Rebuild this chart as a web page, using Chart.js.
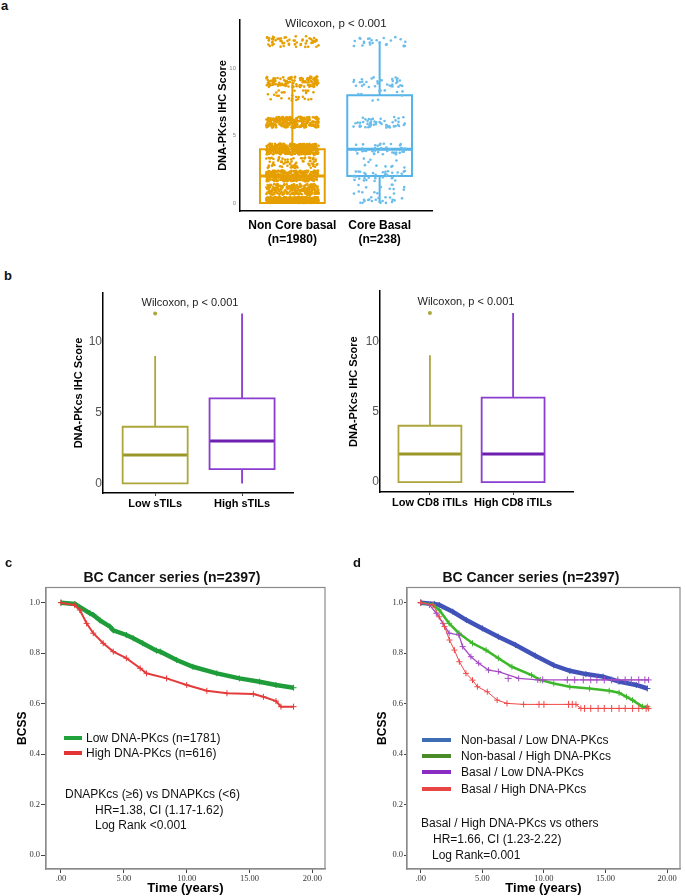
<!DOCTYPE html>
<html>
<head>
<meta charset="utf-8">
<script src="https://cdn.jsdelivr.net/npm/chart.js@4.4.1/dist/chart.umd.min.js"></script>
<style>
  body { margin: 0; background: #fff; font-family: "Liberation Sans", Arial, sans-serif; }
  #page { position: relative; width: 685px; height: 896px; overflow: hidden; background: #fff; }
  .panel { position: absolute; }
  .t { position: absolute; white-space: nowrap; line-height: 1; transform: translateY(-50%); color: #111; font-size: 12px; }
  .c { transform: translate(-50%, -50%); }
  .b { font-weight: bold; }
  .key { position: absolute; height: 4px; width: 18px; }
</style>
</head>
<body>
<div id="page">
  <div class="panel" style="left:190px;top:8px"><canvas id="chartA" width="260" height="250"></canvas></div>
  <div class="panel" style="left:70px;top:283px"><canvas id="chartB1" width="240" height="230"></canvas></div>
  <div class="panel" style="left:345px;top:283px"><canvas id="chartB2" width="240" height="230"></canvas></div>
  <div class="panel" style="left:0px;top:560px"><canvas id="chartC" width="345" height="336"></canvas></div>
  <div class="panel" style="left:345px;top:560px"><canvas id="chartD" width="340" height="336"></canvas></div>

  <!-- panel letters -->
  <div class="t b" style="left:1px;top:5px;font-size:13px">a</div>
  <div class="t b" style="left:4px;top:275px;font-size:13px">b</div>
  <div class="t b" style="left:5px;top:562px;font-size:13px">c</div>
  <div class="t b" style="left:353px;top:562px;font-size:13px">d</div>

  <!-- test labels -->
  <div class="t c" style="left:336px;top:24px;font-size:11.5px;color:#222">Wilcoxon, p &lt; 0.001</div>
  <div class="t c" style="left:190px;top:302px;font-size:11px;color:#222">Wilcoxon, p &lt; 0.001</div>
  <div class="t c" style="left:466px;top:301px;font-size:11px;color:#222">Wilcoxon, p &lt; 0.001</div>

  <!-- survival titles -->
  <div class="t c b" style="left:172px;top:577px;font-size:14px">BC Cancer series (n=2397)</div>
  <div class="t c b" style="left:531px;top:577px;font-size:14px">BC Cancer series (n=2397)</div>

  <!-- legend c -->
  <div class="key" style="left:64px;top:736px;background:#1FA33A"></div>
  <div class="t" style="left:86px;top:738px">Low DNA-PKcs (n=1781)</div>
  <div class="key" style="left:64px;top:751px;background:#E33333"></div>
  <div class="t" style="left:86px;top:753px">High DNA-PKcs (n=616)</div>
  <div class="t" style="left:65px;top:794px">DNAPKcs (≥6) vs DNAPKcs (&lt;6)</div>
  <div class="t" style="left:95px;top:809.5px">HR=1.38, CI (1.17-1.62)</div>
  <div class="t" style="left:95px;top:825px">Log Rank &lt;0.001</div>

  <!-- legend d -->
  <div class="key" style="left:422px;top:738px;width:29px;background:#3D6EB4"></div>
  <div class="t" style="left:461px;top:740px">Non-basal / Low DNA-PKcs</div>
  <div class="key" style="left:422px;top:753.5px;width:29px;background:#4A8C2A"></div>
  <div class="t" style="left:461px;top:755.5px">Non-basal / High DNA-PKcs</div>
  <div class="key" style="left:422px;top:770.3px;width:29px;background:#8A2BC2"></div>
  <div class="t" style="left:461px;top:772.3px">Basal / Low DNA-PKcs</div>
  <div class="key" style="left:422px;top:787px;width:29px;background:#E84545"></div>
  <div class="t" style="left:461px;top:789px">Basal / High DNA-PKcs</div>
  <div class="t" style="left:421px;top:823.3px">Basal / High DNA-PKcs vs others</div>
  <div class="t" style="left:433px;top:838.5px">HR=1.66, CI (1.23-2.22)</div>
  <div class="t" style="left:432px;top:855px">Log Rank=0.001</div>
</div>

<script>
// ---- panel a: IHC score per level (counts of cases) ----
const scoreLevels = [0, 1, 2, 3, 4, 6, 8, 9, 12];
const aGroups = ['Non Core basal', 'Core Basal'];
const aGroupN = [1980, 238];
const nonCoreCounts = [500, 240, 300, 70, 380, 270, 30, 130, 60];
const coreCounts = [20, 15, 35, 10, 40, 50, 10, 33, 25];
const aQ1 = [0, 2];
const aMedian = [2, 4];
const aQ3 = [4, 8];
const aLow = [0, 0];
const aHigh = [9, 12];

// ---- panel b: box stats ----
const bGroupsTils = ['Low sTILs', 'High sTILs'];
const bTilsQ1 = [0, 1];
const bTilsMedian = [2, 3];
const bTilsQ3 = [4, 6];
const bTilsLow = [0, 0];
const bTilsHigh = [9, 12];
const bTilsOutliers = [[12], []];

const bGroupsCd8 = ['Low CD8 iTILs', 'High CD8 iTILs'];
const bCd8Q1 = [0, 0];
const bCd8Median = [2, 2];
const bCd8Q3 = [4, 6];
const bCd8Low = [0, 0];
const bCd8High = [9, 12];
const bCd8Outliers = [[12], []];

const boxTicks = [0, 5, 10];

// ---- panel c: Kaplan-Meier ----
const cTimeLow = [0, 1.1, 1.25, 2.3, 2.57, 3.1, 3.9, 4.16, 5.2, 5.75, 6.5, 7.6, 7.9, 9.2, 10.5, 12.4, 14.2, 15.8, 17.1, 18.5];
const cSurvLow = [1, 0.995, 0.99, 0.958, 0.951, 0.93, 0.905, 0.89, 0.872, 0.859, 0.839, 0.81, 0.806, 0.773, 0.746, 0.72, 0.70, 0.687, 0.674, 0.663];
const cTimeHigh = [0, 1.1, 1.5, 2.04, 2.57, 3.36, 4.16, 5.2, 6.3, 6.8, 8.4, 10.0, 11.6, 13.2, 15.3, 16.1, 17.1, 17.5, 18.5];
const cSurvHigh = [1, 0.99, 0.971, 0.918, 0.879, 0.839, 0.806, 0.78, 0.74, 0.72, 0.70, 0.674, 0.651, 0.641, 0.638, 0.627, 0.61, 0.588, 0.588];

// ---- panel d: Kaplan-Meier by basal status ----
const dTimeBlue = [0, 1.1, 1.5, 2.6, 3.7, 5.0, 6.3, 7.7, 9.3, 10.8, 12.1, 13.4, 14.8, 16.1, 17.5, 18.4];
const dSurvBlue = [1, 0.995, 0.991, 0.964, 0.931, 0.898, 0.865, 0.832, 0.79, 0.752, 0.73, 0.717, 0.707, 0.687, 0.674, 0.66];
const dTimeGreen = [0, 1.0, 1.5, 2.3, 3.1, 4.2, 5.3, 6.3, 7.4, 9.0, 9.7, 10.8, 12.1, 13.7, 15.3, 16.1, 16.7, 17.2, 18.0, 18.4];
const dSurvGreen = [1, 0.991, 0.971, 0.918, 0.879, 0.839, 0.812, 0.78, 0.746, 0.713, 0.694, 0.68, 0.667, 0.66, 0.651, 0.643, 0.627, 0.614, 0.588, 0.588];
const dTimePurple = [0, 0.7, 1.26, 1.8, 2.3, 3.1, 3.4, 4.07, 4.7, 5.5, 6.3, 7.95, 9.5, 18.5];
const dSurvPurple = [1, 0.991, 0.958, 0.918, 0.879, 0.872, 0.826, 0.786, 0.76, 0.733, 0.727, 0.70, 0.694, 0.694];
const dTimeRed = [0, 1.0, 1.5, 1.93, 2.33, 2.73, 3.13, 3.67, 4.2, 4.6, 5.4, 6.2, 7.0, 8.35, 12.6, 13.0, 18.5];
const dSurvRed = [1, 0.991, 0.944, 0.905, 0.852, 0.812, 0.766, 0.72, 0.693, 0.667, 0.647, 0.614, 0.601, 0.597, 0.597, 0.581, 0.581];
// censor marks on the plateaus
const dCensorPurpleTime = [7.1, 9.9, 11.9, 12.5, 13.2, 13.8, 14.3, 14.9, 15.5, 16.0, 16.6, 17.1, 17.7, 18.2];
const dCensorPurpleSurv = [0.70, 0.694, 0.694, 0.694, 0.694, 0.694, 0.694, 0.694, 0.694, 0.694, 0.694, 0.694, 0.694, 0.694];
const dCensorRedTime = [9.6, 10.0, 12.0, 12.3, 13.3, 13.8, 14.4, 14.9, 15.5, 16.1, 16.6, 17.2, 17.7, 18.3];
const dCensorRedSurv = [0.597, 0.597, 0.597, 0.597, 0.581, 0.581, 0.581, 0.581, 0.581, 0.581, 0.581, 0.581, 0.581, 0.581];

const kmTicksY = [0, 0.2, 0.4, 0.6, 0.8, 1.0];
const kmTicksX = [0, 5, 10, 15, 20];

Chart.defaults.font.family = '"Liberation Sans", Arial, sans-serif';
Chart.defaults.animation = false;
Chart.defaults.responsive = false;
Chart.defaults.plugins.legend.display = false;
Chart.defaults.plugins.tooltip.enabled = false;

// deterministic jitter offset in [-0.5, 0.5)
const jit = (n, k) => {
    const v = Math.sin(n * 12.9898 + k * 78.233) * 43758.5453;
    return v - Math.floor(v) - 0.5;
};

// jittered points, one per case, from the level counts
function jitterPoints(counts, center, seed) {
    const pts = [];
    let n = seed;
    counts.forEach((c, i) => {
        for (let k = 0; k < c; k++, n++) {
            const lvl = scoreLevels[i];
            const jy = jit(n, 2);
            pts.push({ x: center + jit(n, 1) * 0.6, y: lvl === 0 ? Math.abs(jy) * 0.85 : lvl + jy * 0.8 });
        }
    });
    return pts;
}

function boxSets(stats, colors, medColors, hw, lw, mw) {
    const sets = [];
    stats.q1.forEach((q1, g) => {
        const c = g + 1;
        const q3 = stats.q3[g], med = stats.med[g];
        const common = { showLine: true, pointRadius: 0, borderColor: colors[g], borderWidth: lw };
        sets.push({ ...common, borderCapStyle: 'square', borderJoinStyle: 'miter',
            data: [{ x: c - hw, y: q1 }, { x: c + hw, y: q1 }, { x: c + hw, y: q3 }, { x: c - hw, y: q3 }, { x: c - hw, y: q1 }] });
        sets.push({ ...common,
            data: [{ x: c, y: stats.lo[g] }, { x: c, y: q1 }, { x: c, y: null }, { x: c, y: q3 }, { x: c, y: stats.hi[g] }] });
        sets.push({ ...common, borderColor: medColors[g], borderWidth: mw,
            data: [{ x: c - hw, y: med }, { x: c + hw, y: med }] });
    });
    return sets;
}

// ---- a ----
const orange = '#E69F00', skyBlue = '#56B4E9';
new Chart(document.getElementById('chartA'), {
    type: 'scatter',
    data: {
        datasets: [
            { data: jitterPoints(nonCoreCounts, 1, 1), pointRadius: 1.3, pointBackgroundColor: orange, pointBorderWidth: 0 },
            { data: jitterPoints(coreCounts, 2, 5001), pointRadius: 1.3, pointBackgroundColor: '#6BBDEB', pointBorderWidth: 0 },
            ...boxSets({ q1: aQ1, med: aMedian, q3: aQ3, lo: aLow, hi: aHigh }, [orange, skyBlue], [orange, skyBlue], 0.371, 2, 3)
        ]
    },
    options: {
        layout: { padding: { left: 0, top: 12, right: 18, bottom: 7 } },
        scales: {
            x: {
                min: 0.4, max: 2.6,
                afterBuildTicks: s => { s.ticks = [1, 2].map(v => ({ value: v })); },
                afterFit: s => { s.height = 40; },
                grid: { display: false, drawTicks: false },
                border: { color: '#000', width: 1.5 },
                ticks: { color: '#000', padding: 7, maxRotation: 0, autoSkip: false,
                    font: { size: 12, weight: 'bold' },
                    callback: v => [aGroups[v - 1], '(n=' + aGroupN[v - 1] + ')'] }
            },
            y: {
                min: -0.6, max: 13.6,
                afterBuildTicks: s => { s.ticks = boxTicks.map(v => ({ value: v })); },
                afterFit: s => { s.width = 50; },
                grid: { display: false, drawTicks: false },
                border: { color: '#000', width: 1.5 },
                ticks: { color: '#888', padding: 4, font: { size: 6 } },
                title: { display: true, text: 'DNA-PKcs IHC Score', color: '#000',
                    font: { size: 11, weight: 'bold' }, padding: { top: 26, bottom: 0 } }
            }
        }
    }
});

// ---- b ----
const olive = '#ADA63C', oliveDark = '#9B962A', purple = '#8A3DCF', purpleDark = '#6E1FB0';

function tilsChart(id, groups, stats, outliers, opt) {
    new Chart(document.getElementById(id), {
        type: 'scatter',
        data: {
            datasets: [
                { data: outliers.flatMap((o, g) => o.map(v => ({ x: g + 1, y: v }))),
                  pointRadius: 2, pointBackgroundColor: olive, pointBorderWidth: 0 },
                ...boxSets(stats, [olive, purple], [oliveDark, purpleDark], opt.hw, 1.8, 3)
            ]
        },
        options: {
            layout: { padding: opt.pad },
            scales: {
                x: {
                    min: 0.4, max: opt.xmax,
                    afterBuildTicks: s => { s.ticks = [1, 2].map(v => ({ value: v })); },
                    afterFit: s => { s.height = 20; },
                    grid: { display: true, drawOnChartArea: false, drawTicks: true, tickLength: 3, color: '#444' },
                    border: { color: '#000', width: 1.5 },
                    ticks: { color: '#000', padding: 1, maxRotation: 0, autoSkip: false,
                        font: { size: 11, weight: 'bold' }, callback: v => groups[v - 1] }
                },
                y: {
                    min: opt.ymin, max: opt.ymax,
                    afterBuildTicks: s => { s.ticks = boxTicks.map(v => ({ value: v })); },
                    afterFit: s => { s.width = opt.yw; },
                    grid: { display: false, drawTicks: false },
                    border: { color: '#000', width: 1.5 },
                    ticks: { color: '#555', padding: 1, font: { size: 12 } },
                    title: { display: true, text: 'DNA-PKcs IHC Score', color: '#000',
                        font: { size: 11, weight: 'bold' }, padding: { top: opt.tp, bottom: 0 } }
                }
            }
        }
    });
}

tilsChart('chartB1', bGroupsTils,
    { q1: bTilsQ1, med: bTilsMedian, q3: bTilsQ3, lo: bTilsLow, hi: bTilsHigh }, bTilsOutliers,
    { hw: 0.374, xmax: 2.586, ymin: -0.68, ymax: 13.45, yw: 33, tp: 2.4, pad: { left: 0, top: 10, right: 17, bottom: 0 } });
tilsChart('chartB2', bGroupsCd8,
    { q1: bCd8Q1, med: bCd8Median, q3: bCd8Q3, lo: bCd8Low, hi: bCd8High }, bCd8Outliers,
    { hw: 0.378, xmax: 2.72, ymin: -0.7, ymax: 13.55, yw: 35, tp: 2.4, pad: { left: 0, top: 7, right: 12, bottom: 1 } });

// ---- c / d ----
const framePlugin = {
    id: 'frame',
    afterDraw(chart) {
        const { ctx, chartArea: a } = chart;
        ctx.save();
        ctx.strokeStyle = '#8a8a8a';
        ctx.lineWidth = 1.2;
        ctx.strokeRect(a.left, a.top, a.right - a.left, a.bottom - a.top);
        ctx.restore();
    }
};

function kmSet(times, surv, color, width) {
    return {
        showLine: true, data: times.map((t, i) => ({ x: t, y: surv[i] })),
        borderColor: color, borderWidth: width, tension: 0,
        pointStyle: 'cross', pointRadius: 3, pointBorderColor: color, pointBorderWidth: 1
    };
}

function censorSet(times, surv, color) {
    return {
        data: times.map((t, i) => ({ x: t, y: surv[i] })),
        pointStyle: 'cross', pointRadius: 3.5, pointBorderColor: color, pointBorderWidth: 1
    };
}

function kmChart(id, datasets, opt) {
    new Chart(document.getElementById(id), {
        type: 'scatter',
        data: { datasets },
        plugins: [framePlugin],
        options: {
            layout: { padding: opt.pad },
            scales: {
                x: {
                    min: opt.xmin, max: opt.xmax,
                    afterBuildTicks: s => { s.ticks = kmTicksX.map(v => ({ value: v })); },
                    afterFit: s => { s.height = 27; },
                    grid: { display: true, drawOnChartArea: false, tickLength: 4, color: '#444' },
                    border: { color: '#8a8a8a', width: 1.2 },
                    ticks: { color: '#333', padding: 1, font: { family: '"Liberation Serif", serif', size: 8.5 },
                        callback: v => (v === 0 ? '.00' : v.toFixed(2)) },
                    title: { display: true, text: 'Time (years)', color: '#000',
                        font: { size: 13, weight: 'bold' }, padding: { top: 0, bottom: 0 } }
                },
                y: {
                    min: -0.055, max: 1.06,
                    afterBuildTicks: s => { s.ticks = kmTicksY.map(v => ({ value: v })); },
                    afterFit: s => { s.width = opt.yw; },
                    grid: { display: true, drawOnChartArea: false, tickLength: opt.tl, color: '#444' },
                    border: { color: '#8a8a8a', width: 1.2 },
                    ticks: { color: '#333', padding: 1, font: { family: '"Liberation Serif", serif', size: 8.5 },
                        callback: v => v.toFixed(1) },
                    title: { display: true, text: 'BCSS', color: '#000',
                        font: { size: 12, weight: 'bold' }, padding: { top: opt.tp, bottom: 0 } }
                }
            }
        }
    });
}

kmChart('chartC', [
    kmSet(cTimeHigh, cSurvHigh, '#E43B3B', 2),
    kmSet(cTimeLow, cSurvLow, '#1F9D3A', 4.5)
], { xmin: -1.19, xmax: 21.0, yw: 46, tl: 5, tp: 15.8, pad: { left: 0, top: 27.5, right: 20, bottom: 0 } });

kmChart('chartD', [
    censorSet(dCensorRedTime, dCensorRedSurv, '#F04848'),
    censorSet(dCensorPurpleTime, dCensorPurpleSurv, '#A64BC4'),
    kmSet(dTimeRed, dSurvRed, '#F04848', 1),
    kmSet(dTimePurple, dSurvPurple, '#A64BC4', 1.3),
    kmSet(dTimeGreen, dSurvGreen, '#3DB82B', 2.5),
    kmSet(dTimeBlue, dSurvBlue, '#4152B8', 4.5)
], { xmin: -1.12, xmax: 21.05, yw: 62, tl: 3, tp: 30.8, pad: { left: 0, top: 27.5, right: 2, bottom: 0 } });
</script>
</body>
</html>
